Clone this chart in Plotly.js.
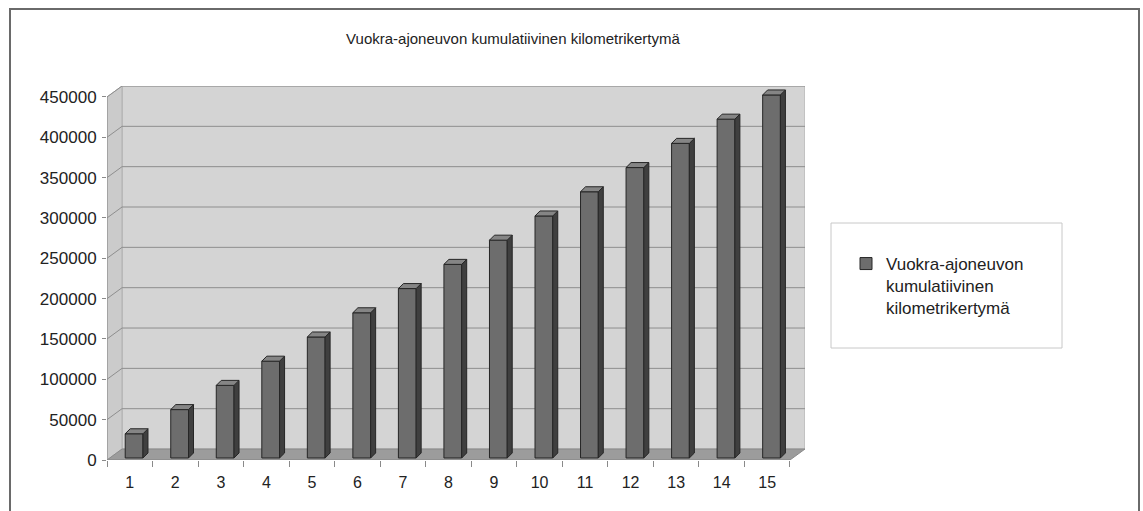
<!DOCTYPE html>
<html>
<head>
<meta charset="utf-8">
<script src="https://cdn.plot.ly/plotly-3.0.1.min.js"></script>
<style>html,body{margin:0;padding:0;background:#fff;}#chart{width:1143px;height:511px;}</style>
</head>
<body>
<div id="chart"></div>
<script>
// ---- data ----
const chartTitle = 'Vuokra-ajoneuvon kumulatiivinen kilometrikertymä';
const seriesName = 'Vuokra-ajoneuvon<br>kumulatiivinen<br>kilometrikertymä';
const categories = [1, 2, 3, 4, 5, 6, 7, 8, 9, 10, 11, 12, 13, 14, 15];
const tickLabels = ['1','2','3','4','5','6','7','8','9','10','11','12','13','14','15'];
const kmValues = [30000, 60000, 90000, 120000, 150000, 180000, 210000, 240000, 270000, 300000, 330000, 360000, 390000, 420000, 450000];
const yTicks = [0, 50000, 100000, 150000, 200000, 250000, 300000, 350000, 400000, 450000];
const yTickLabels = ['0','50000','100000','150000','200000','250000','300000','350000','400000','450000'];

// ---- 3D look (depth in data units) ----
const yMax = 450000;
const depthX = 0.33, depthY = 13600;     // wall depth
const barLift = 2500;                     // bars stand slightly into the floor
const barOff = -0.1, barW = 0.39;         // front face
const sideX = 0.11, sideY = 6200;         // bar depth
const xLo = 0.5, xHi = 15.5;

// plot area pixels
const W = 1143, H = 511;
const L = 107, R = 805, T = 86, B = 460;
const px2x = p => (p - L) / (R - L);
const py2y = p => (B - p) / (B - T);

const shapes = [];
// back wall
shapes.push({type:'path', layer:'below', xref:'x', yref:'y',
  path:`M${xLo+depthX},${depthY} L${xHi+depthX},${depthY} L${xHi+depthX},${yMax+depthY} L${xLo+depthX},${yMax+depthY} Z`,
  fillcolor:'#d4d4d4', line:{color:'#b0b0b0', width:1}});
// left side wall
shapes.push({type:'path', layer:'below', xref:'x', yref:'y',
  path:`M${xLo},0 L${xLo+depthX},${depthY} L${xLo+depthX},${yMax+depthY} L${xLo},${yMax} Z`,
  fillcolor:'#cbcbcb', line:{color:'#b0b0b0', width:1}});
// gridlines on back wall + side wall
yTicks.forEach(t => {
  if (t === 0) return;
  shapes.push({type:'line', layer:'below', xref:'x', yref:'y',
    x0:xLo+depthX, x1:xHi+depthX, y0:t+depthY, y1:t+depthY, line:{color:'#8e8e8e', width:1}});
  shapes.push({type:'line', layer:'below', xref:'x', yref:'y',
    x0:xLo, x1:xLo+depthX, y0:t, y1:t+depthY, line:{color:'#8e8e8e', width:1}});
});
// floor
shapes.push({type:'path', layer:'below', xref:'x', yref:'y',
  path:`M${xLo},0 L${xHi},0 L${xHi+depthX},${depthY} L${xLo+depthX},${depthY} Z`,
  fillcolor:'#9c9c9c', line:{color:'#8a8a8a', width:1}});
// front axis lines
shapes.push({type:'line', layer:'below', xref:'x', yref:'y', x0:xLo, x1:xLo, y0:0, y1:yMax, line:{color:'#8a8a8a', width:1}});
shapes.push({type:'line', layer:'below', xref:'x', yref:'y', x0:xLo, x1:xHi, y0:0, y1:0, line:{color:'#8a8a8a', width:1}});
// outer chart frame (no bottom edge)
shapes.push({type:'path', xref:'paper', yref:'paper',
  path:`M${px2x(10)},${py2y(515)} L${px2x(10)},${py2y(9)} L${px2x(1139)},${py2y(9)} L${px2x(1139)},${py2y(515)}`,
  line:{color:'#6a6a6a', width:2}});
// legend box
shapes.push({type:'rect', xref:'paper', yref:'paper', layer:'below',
  x0:px2x(831), x1:px2x(1062), y0:py2y(348), y1:py2y(223),
  fillcolor:'#ffffff', line:{color:'#c8c8c8', width:1}});

// bar side & top faces from the data
const sx = [], sy = [], tx = [], ty = [];
categories.forEach((c, i) => {
  const v = kmValues[i] + barLift;
  const xl = c + barOff, xr = c + barOff + barW;
  sx.push(xr, xr, xr + sideX, xr + sideX, xr, null);
  sy.push(barLift, v, v + sideY, barLift + sideY, barLift, null);
  tx.push(xl, xl + sideX, xr + sideX, xr, xl, null);
  ty.push(v, v + sideY, v + sideY, v, v, null);
});

const traces = [
  {type:'bar', x:categories, y:kmValues, base:barLift, offset:barOff, width:barW,
   name:seriesName, marker:{color:'#6d6d6d', line:{color:'#262626', width:1}}, hoverinfo:'x+y'},
  {type:'scatter', mode:'lines', x:sx, y:sy, fill:'toself', fillcolor:'#3f3f3f',
   line:{color:'#262626', width:1}, showlegend:false, hoverinfo:'skip'},
  {type:'scatter', mode:'lines', x:tx, y:ty, fill:'toself', fillcolor:'#858585',
   line:{color:'#262626', width:1}, showlegend:false, hoverinfo:'skip'}
];

const layout = {
  width: W, height: H, autosize: false,
  margin: {l: L, r: W - R, t: T, b: H - B, pad: 0},
  paper_bgcolor: '#ffffff', plot_bgcolor: 'rgba(0,0,0,0)',
  font: {family: 'Liberation Sans, Arial, sans-serif', color: '#222222', size: 17},
  title: {text: chartTitle, x: 513 / W, xanchor: 'center', xref: 'container',
          y: 1 - 39 / H, yanchor: 'middle', yref: 'container',
          font: {size: 15, color: '#222222', family: 'Liberation Sans, Arial, sans-serif'}},
  xaxis: {range: [xLo, xHi + depthX], tickmode: 'array', tickvals: categories, ticktext: tickLabels,
          showgrid: false, zeroline: false, showline: false, ticks: '', ticklabelstandoff: 11,
          tickfont: {size: 16},
          minor: {tickmode: 'linear', tick0: 0.5, dtick: 1, ticks: 'outside', ticklen: 6, tickcolor: '#8a8a8a', showgrid: false},
          fixedrange: true},
  yaxis: {range: [0, yMax + depthY], tickmode: 'array', tickvals: yTicks, ticktext: yTickLabels,
          showgrid: false, zeroline: false, showline: false, ticks: 'outside', ticklen: 4, tickcolor: '#8a8a8a',
          tickfont: {size: 17}, ticklabelstandoff: 2, fixedrange: true},
  showlegend: true,
  legend: {x: px2x(846), xanchor: 'left', y: py2y(246), yanchor: 'top', valign: 'top',
           bgcolor: 'rgba(0,0,0,0)', borderwidth: 0, font: {size: 17, color: '#222222'}},
  shapes: shapes,
  bargap: 0
};

Plotly.newPlot('chart', traces, layout, {displayModeBar: false, staticPlot: true});
</script>
</body>
</html>
